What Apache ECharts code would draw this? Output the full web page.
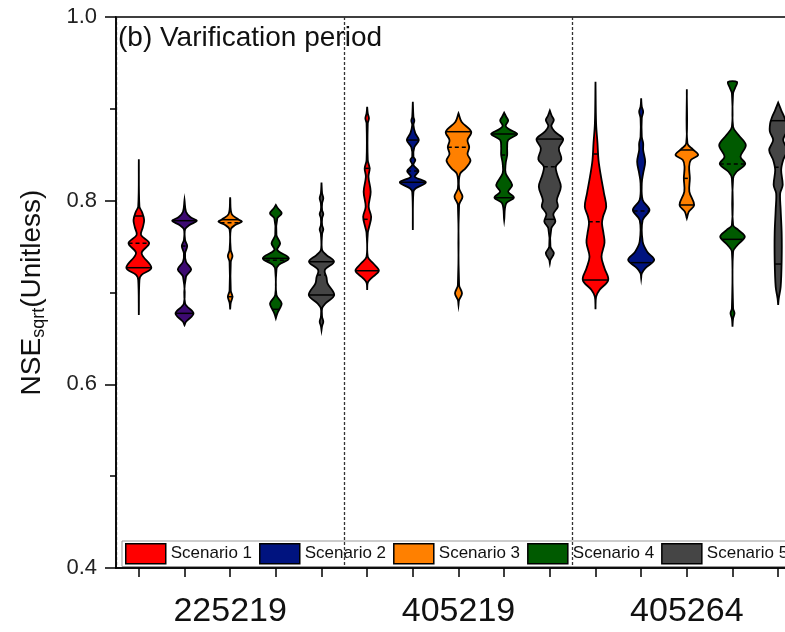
<!DOCTYPE html>
<html>
<head>
<meta charset="utf-8">
<script src="https://cdn.jsdelivr.net/npm/echarts@6/dist/echarts.min.js"></script>
<style>
  html, body { margin: 0; padding: 0; background: #fff; }
  #chart { width: 785px; height: 632px; }
</style>
</head>
<body>
<div id="chart"></div>
<script>
// gauges and scenarios
const groups = ['225219', '405219', '405264']
const scenarios = ['Scenario 1', 'Scenario 2', 'Scenario 3', 'Scenario 4', 'Scenario 5']
const slots = groups.flatMap(g => scenarios.map(s => g + ' ' + s))
const yTicks = [0.4, 0.6, 0.8, 1.0]

// violin outlines: [NSE value, half width] from top to bottom, one list per gauge
const shapeS1 = [
  [[0.845, 0], [0.7935, 0.6], [0.788, 3], [0.779, 5.3], [0.771, 4], [0.7626, 2.2], [0.7536, 10.3], [0.7427, 2.8],
   [0.727, 12.5], [0.719, 2.5], [0.7136, 0.6], [0.6755, 0]],
  [[0.9023, 0], [0.8951, 0.6], [0.8897, 1.8], [0.8842, 0.6], [0.8443, 0.6], [0.8352, 2.5], [0.8261, 1.3], [0.8098, 3.5],
   [0.7934, 1.5], [0.7825, 4], [0.7716, 2], [0.7644, 0.6], [0.739, 0.6], [0.7318, 6], [0.7237, 11.7], [0.7155, 4],
   [0.7107, 0.6], [0.7027, 0]],
  [[0.9295, 0], [0.8842, 0.6], [0.8625, 2], [0.8443, 3], [0.8261, 5.5], [0.808, 8.5], [0.7934, 10.7], [0.7825, 7.5],
   [0.7753, 6.5], [0.7644, 8], [0.7542, 9], [0.739, 6], [0.7263, 9], [0.7136, 12.7], [0.7027, 4], [0.6954, 0.6],
   [0.6817, 0]]
]
const shapeS2 = [
  [[0.8007, 0], [0.788, 1.5], [0.7819, 6], [0.7782, 12.3], [0.7735, 5], [0.7688, 0.6], [0.757, 0.6], [0.7506, 2.7],
   [0.7427, 0.6], [0.7335, 1.5], [0.7252, 6.7], [0.7172, 1.5], [0.6882, 0.6], [0.6773, 9], [0.6682, 1.5], [0.6646, 0]],
  [[0.9078, 0], [0.8914, 0.6], [0.8871, 1.5], [0.8824, 0.6], [0.8733, 2.5], [0.866, 6], [0.8581, 1.5], [0.8479, 0.6],
   [0.8443, 2.5], [0.8388, 0.6], [0.8323, 5.7], [0.8261, 2], [0.82, 13], [0.8135, 3], [0.8098, 0.6], [0.768, 0]],
  [[0.9115, 0], [0.9023, 0.6], [0.8969, 2], [0.8897, 0.6], [0.8697, 0.6], [0.8625, 2], [0.8552, 2], [0.8424, 4],
   [0.8298, 2], [0.8189, 0.6], [0.8007, 1.5], [0.7898, 8.3], [0.7789, 1.5], [0.7553, 1.5], [0.7444, 6], [0.7354, 13],
   [0.7263, 4], [0.7209, 0.6], [0.7155, 0]]
]
const shapeS3 = [
  [[0.8037, 0], [0.7855, 1.5], [0.7797, 8], [0.7771, 11.7], [0.7735, 5], [0.7688, 0.6], [0.7463, 0.6], [0.7398, 2.3],
   [0.7332, 0.6], [0.702, 0.6], [0.6954, 2.3], [0.6889, 0.6], [0.6817, 0]],
  [[0.8951, 0], [0.886, 3], [0.8751, 12.7], [0.866, 9], [0.8581, 10.7], [0.8508, 9], [0.8435, 12], [0.8352, 7],
   [0.829, 1.5], [0.8135, 0.6], [0.8043, 4], [0.7953, 0.6], [0.7082, 0.6], [0.6991, 3.5], [0.6918, 0.6], [0.6864, 0]],
  [[0.9213, 0], [0.8625, 0.6], [0.8559, 6], [0.8497, 11.3], [0.8443, 4], [0.837, 2.3], [0.8243, 3], [0.8098, 2.5],
   [0.7953, 7.3], [0.788, 2], [0.7808, 0]]
]
const shapeS4 = [
  [[0.7953, 0], [0.7917, 2], [0.7862, 5.8], [0.7808, 1.5], [0.7626, 0.6], [0.7536, 4.3], [0.7463, 1.5], [0.7372, 13],
   [0.73, 3], [0.7245, 0.6], [0.6973, 0.6], [0.6882, 5.8], [0.6817, 3.5], [0.6773, 1.5], [0.6719, 0]],
  [[0.8958, 0], [0.8914, 2], [0.8871, 4], [0.8813, 1.5], [0.8777, 5], [0.8726, 13], [0.866, 4], [0.8581, 3],
   [0.8497, 3], [0.8406, 1.5], [0.8298, 1.5], [0.817, 8], [0.8098, 4], [0.8032, 9.7], [0.7971, 2], [0.7789, 0]],
  [[0.9292, 4.5], [0.9224, 2.5], [0.9169, 0.6], [0.8805, 0.6], [0.8715, 6], [0.8606, 13.3], [0.8479, 8], [0.8399, 12.7],
   [0.8315, 4], [0.8243, 0.6], [0.7735, 0.6], [0.768, 6], [0.7608, 12.3], [0.7517, 5], [0.7444, 0.6], [0.6828, 0.6],
   [0.6773, 2], [0.6719, 0.6], [0.6628, 0]]
]
const shapeS5 = [
  [[0.8196, 0], [0.808, 0.6], [0.8026, 1.8], [0.7971, 0.6], [0.7898, 0.6], [0.7855, 1.8], [0.7808, 0.6], [0.7735, 0.6],
   [0.7688, 1.8], [0.7637, 0.6], [0.7463, 0.6], [0.7408, 5], [0.7335, 12.5], [0.7245, 3.3], [0.7165, 5], [0.71, 6],
   [0.6973, 12.7], [0.6882, 4], [0.6828, 0.6], [0.6736, 0.6], [0.6682, 1.8], [0.6635, 0.6], [0.6591, 0]],
  [[0.898, 0], [0.8922, 2], [0.8878, 4], [0.8813, 1.5], [0.8751, 5], [0.8671, 13.3], [0.857, 9], [0.845, 11.5],
   [0.837, 6], [0.828, 7.5], [0.8152, 11], [0.8007, 7], [0.7934, 8], [0.7855, 3.5], [0.7771, 5.5], [0.7699, 1.5],
   [0.7499, 0.6], [0.7427, 4], [0.7354, 0.6], [0.7318, 0]],
  [[0.9067, 0], [0.8987, 3], [0.8914, 6], [0.8842, 8], [0.8751, 8.3], [0.866, 5], [0.8552, 9], [0.8443, 5],
   [0.8334, 3], [0.817, 4.5], [0.808, 2], [0.7898, 2.5], [0.7644, 3.5], [0.7354, 3.5], [0.7063, 2.5], [0.6937, 0.6],
   [0.6864, 0]]
]

// quartile lines: [upper quartile, median, lower quartile], null = not drawn
const quartS1 = [[0.7833, 0.7536, 0.727], [0.8352, 0.7797, 0.7237], [0.8508, 0.7771, 0.7136]]
const quartS2 = [[0.7782, 0.7506, 0.6773], [0.866, 0.8323, 0.82], [null, 0.7887, 0.7325]]
const quartS3 = [[0.7793, 0.776, 0.6954], [0.8751, 0.8581, null], [0.8552, 0.8243, 0.7953]]
const quartS4 = [[0.7372, 0.735, 0.6817], [0.8726, 0.8497, 0.8032], [null, 0.8399, 0.7579]]
const quartS5 = [[0.7335, 0.719, 0.6973], [0.8671, 0.837, 0.7797], [0.8871, 0.8363, 0.731]]

const shapes = [shapeS1, shapeS2, shapeS3, shapeS4, shapeS5]
const quarts = [quartS1, quartS2, quartS3, quartS4, quartS5]
const colors = ['#ff0000', '#00137f', '#ff8000', '#005a00', '#454545']
const FONT = '"Liberation Sans", Arial, sans-serif'
const REF_SLOT = 45.67

function halfWidthAt(prof, v) {
  for (let i = 0; i < prof.length - 1; i++) {
    const [v0, w0] = prof[i]
    const [v1, w1] = prof[i + 1]
    if (v <= v0 && v >= v1) return w0 + (w1 - w0) * (v0 - v) / (v0 - v1)
  }
  return 0
}

function renderViolin(params, api) {
  const slot = api.value(0)
  const g = api.value(1)
  const s = params.seriesIndex
  const prof = shapes[s][g]
  const q = quarts[s][g]
  const k = api.size([1, 0])[0] / REF_SLOT
  const cx = api.coord([slot, 0.7])[0]
  const left = []
  const right = []
  prof.forEach(([v, w]) => {
    const y = api.coord([slot, v])[1]
    left.push([cx - w * k, y])
    right.unshift([cx + w * k, y])
  })
  // scenario 2 of the first gauge is drawn in purple in the source figure
  const fill = (s === 1 && g === 0) ? '#3d0a72' : colors[s]
  const children = [{
    type: 'polygon',
    shape: { points: left.concat(right), smooth: 0.35 },
    style: { fill: fill, stroke: '#000', lineWidth: 1.8 }
  }]
  q.forEach((v, i) => {
    if (v == null) return
    const w = Math.max(halfWidthAt(prof, v), 3) * k
    const y = api.coord([slot, v])[1]
    children.push({
      type: 'line',
      shape: { x1: cx - w, y1: y, x2: cx + w, y2: y },
      style: { stroke: '#000', lineWidth: 1.5, lineDash: i === 1 ? [4, 3] : null }
    })
  })
  return { type: 'group', children }
}

const chart = echarts.init(document.getElementById('chart'), null, { renderer: 'canvas' })

chart.setOption({
  animation: false,
  backgroundColor: '#fff',
  textStyle: { fontFamily: FONT },
  title: {
    text: '(b) Varification period',
    left: 118,
    top: 24,
    padding: 0,
    textStyle: { fontFamily: FONT, fontSize: 28, fontWeight: 'normal', color: '#111' }
  },
  legend: {
    data: scenarios,
    left: 122,
    top: 541,
    width: 700,
    padding: [2, 3, 2, 3],
    itemWidth: 40,
    itemHeight: 20,
    itemGap: 7,
    icon: 'rect',
    borderColor: '#999',
    borderWidth: 1,
    itemStyle: { borderColor: '#000', borderWidth: 1.5 },
    textStyle: { fontFamily: FONT, fontSize: 17, color: '#111' }
  },
  grid: {
    left: 116,
    top: 17,
    width: 685,
    height: 551,
    outerBoundsMode: 'none',
    containLabel: false,
    show: true,
    borderColor: '#000',
    borderWidth: 1.5,
    backgroundColor: 'transparent'
  },
  xAxis: [
    {
      type: 'category',
      data: slots,
      position: 'bottom',
      axisLine: { lineStyle: { color: '#000', width: 1.5 } },
      axisTick: { show: true, interval: 0, alignWithLabel: true, length: 9, lineStyle: { color: '#000', width: 1.5 } },
      axisLabel: { show: false, interval: 0 },
      splitLine: { show: false }
    },
    {
      type: 'category',
      data: groups,
      position: 'bottom',
      axisLine: { show: false },
      axisTick: { show: false },
      axisLabel: { fontFamily: FONT, fontSize: 34, color: '#111', margin: 27 },
      splitLine: { show: true, lineStyle: { color: '#333', width: 1.3, type: [3, 2] } }
    }
  ],
  yAxis: {
    type: 'value',
    min: yTicks[0],
    max: yTicks[yTicks.length - 1],
    interval: 0.2,
    name: '{a|NSE}{b|sqrt}{a|(Unitless)}',
    nameLocation: 'middle',
    nameGap: 68,
    nameRotate: 90,
    nameTextStyle: {
      rich: {
        a: { fontFamily: FONT, fontSize: 28, color: '#111', lineHeight: 30, verticalAlign: 'top' },
        b: { fontFamily: FONT, fontSize: 18, color: '#111', lineHeight: 18, padding: [20, 0, 0, 0], verticalAlign: 'bottom' }
      }
    },
    axisLine: { show: true, lineStyle: { color: '#000', width: 1.5 } },
    axisTick: { show: true, length: 11, lineStyle: { color: '#000', width: 1.5 } },
    minorTick: { show: true, splitNumber: 2, length: 6, lineStyle: { color: '#000', width: 1.5 } },
    axisLabel: {
      fontFamily: FONT, fontSize: 22, color: '#222', margin: 19,
      formatter: v => v.toFixed(1)
    },
    splitLine: { show: false }
  },
  series: scenarios.map((name, s) => ({
    name: name,
    type: 'custom',
    xAxisIndex: 0,
    yAxisIndex: 0,
    itemStyle: { color: colors[s], borderColor: '#000', borderWidth: 1.5 },
    renderItem: renderViolin,
    encode: { x: 0, y: -1 },
    data: groups.map((g, gi) => [gi * scenarios.length + s, gi])
  }))
})
</script>
</body>
</html>
